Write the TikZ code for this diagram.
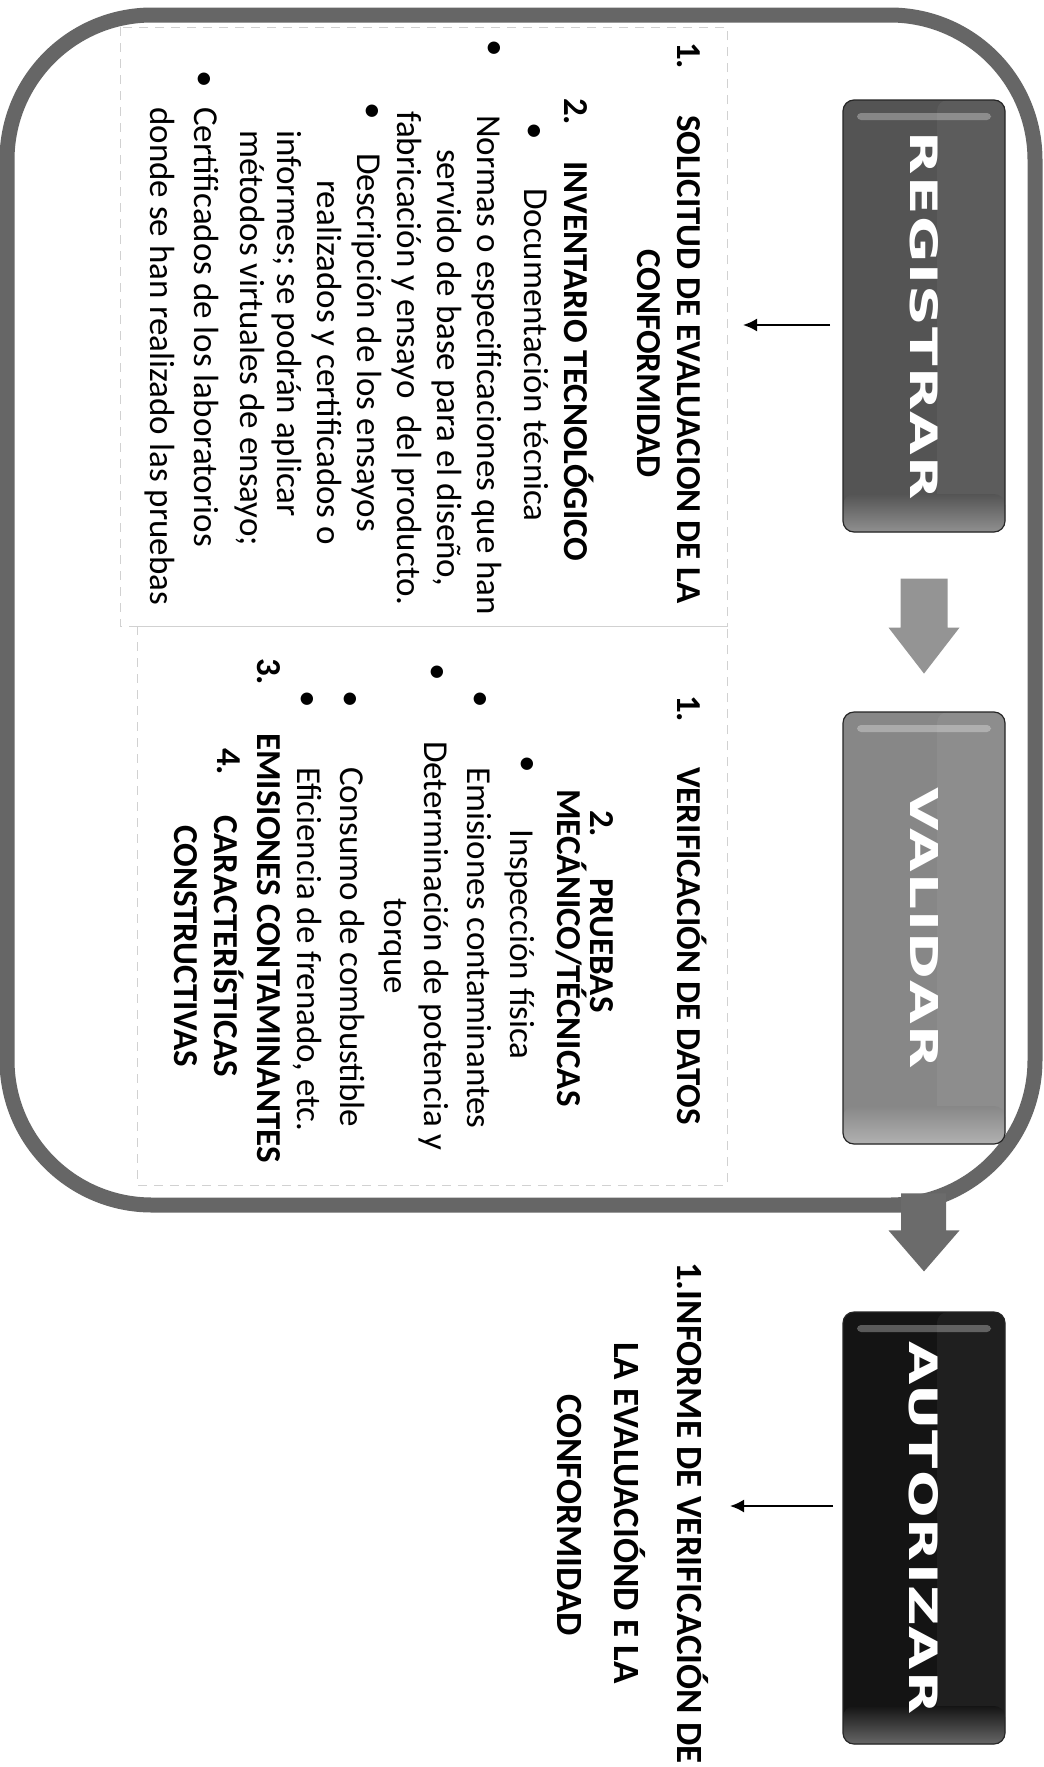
\documentclass[tikz,border=0pt]{standalone}
\usepackage{fontspec}
\setmainfont{Carlito}
\newfontfamily\btnfont{DejaVu Sans}[LetterSpace=2.0]
\usetikzlibrary{calc,arrows.meta}
\colorlet{regc}{black!67}
\colorlet{valc}{black!47}
\colorlet{autc}{black!92}
\begin{document}
\begin{tikzpicture}[x=1pt,y=-1pt,
  tx/.style={rotate=-90, anchor=mid west, inner sep=0pt, font=\fontsize{35}{41}\selectfont},
  hd/.style={tx, font=\fontsize{35}{41}\selectfont\bfseries},
  hdb/.style={tx, font=\fontsize{37}{44}\selectfont\bfseries},
  bl/.style={rotate=-90, anchor=mid, inner sep=0pt, font=\fontsize{35}{41}\selectfont},
  btn/.style={draw=black!85, line width=1.2pt, rounded corners=11pt,
    minimum width=162pt, minimum height=432pt, inner sep=0pt, fill=#1,
    path picture={
      \fill[white, opacity=0.05] ([xshift=13pt]path picture bounding box.north) rectangle (path picture bounding box.south east);
      \shade[top color=#1, bottom color=#1!65!white] ([yshift=38pt]path picture bounding box.south west) rectangle (path picture bounding box.south east);
      \fill[white, opacity=0.3, rounded corners=4pt] ([xshift=14pt,yshift=-13pt]path picture bounding box.north west) rectangle ([xshift=-14pt,yshift=-20pt]path picture bounding box.north east);
    }},
  btntxt/.style={rotate=-90, text=white, inner sep=0pt, font=\btnfont\bfseries},
  frame/.style={line width=15pt, draw=black!60},
  dashbox/.style={draw=black!18, line width=0.8pt, dash pattern=on 9pt off 7pt},
  thinarr/.style={line width=2pt, -{Latex[length=14pt,width=13pt]}},
  arrA/.style={fill=black!42},
  arrB/.style={fill=black!58}
]
\useasboundingbox[fill=white] (0,0) rectangle (1044,1767);

% text boxes (faint dashed)
\draw[dashbox] (120,27) rectangle (727,626);
\draw[dashbox] (137,626) rectangle (727,1185);

% outer frame
\draw[frame, rounded corners=145pt] (800,1205) -- (7,1205) -- (7,15) -- (1035,15) -- (1035,1205) -- cycle;

% buttons
\node[btn=regc] (reg) at (924,316) {};
\node[btn=valc] (val) at (924,928) {};
\node[btn=autc] (aut) at (924,1528) {};
\node[btntxt] (regT) at (reg.center) {\resizebox{368pt}{28pt}{REGISTRAR}};
\node[btntxt] (valT) at (val.center) {\resizebox{281pt}{28pt}{VALIDAR}};
\node[btntxt] (autT) at (aut.center) {\resizebox{373pt}{29pt}{AUTORIZAR}};

% big arrows
\fill[arrA] ($(reg.south)+(-23.5,46)$) -- ($(reg.south)+(23.5,46)$) -- ($(reg.south)+(23.5,95)$) -- ($(reg.south)+(35.5,95)$) -- ($(reg.south)+(0,141)$) -- ($(reg.south)+(-35.5,95)$) -- ($(reg.south)+(-23.5,95)$) -- cycle;
\fill[arrB] ($(aut.north)+(-23,-118)$) -- ($(aut.north)+(22,-118)$) -- ($(aut.north)+(22,-81)$) -- ($(aut.north)+(35.5,-81)$) -- ($(aut.north)+(0,-40)$) -- ($(aut.north)+(-35.5,-81)$) -- ($(aut.north)+(-23,-81)$) -- cycle;

% REGISTRAR text
\node[hd] (r1n) at (680,42) {1.};
\node[hd] (r1) at (680,115) {SOLICITUD DE EVALUACION DE LA};
\node[hd] (r1b) at (640,249) {CONFORMIDAD};
\node[hd] (r2n) at (567,98) {2.};
\node[hd] (r2) at (567,161) {INVENTARIO TECNOLÓGICO};
\node[bl] (rb1) at (527,131) {•};
\node[tx] (r3) at (527,188) {Documentación técnica};
\node[bl] (rb2) at (487,48) {•};
\node[tx] (r4) at (480,115) {Normas o especificaciones que han};
\node[tx] (r5) at (440,149) {servido de base para el diseño,};
\node[tx] (r6) at (400,111) {fabricación y ensayo\hspace{0.25em} del producto.};
\node[bl] (rb3) at (365,111) {•};
\node[tx] (r7) at (360,153) {Descripción de los ensayos};
\node[tx] (r8) at (320,180) {realizados y certificados o};
\node[tx] (r9) at (280,130) {informes; se podrán aplicar};
\node[tx] (r10) at (243,130) {métodos virtuales de ensayo;};
\node[bl] (rb4) at (197,79) {•};
\node[tx] (r11) at (197,107) {Certificados de los laboratorios};
\node[tx] (r12) at (153,107) {donde se han realizado las pruebas};

% VALIDAR text
\node[hd] (v1n) at (680,695) {1.};
\node[hd] (v1) at (680,767) {VERIFICACIÓN DE DATOS};
\node[hd] (v2n) at (593,810) {2.};
\node[hd] (v2) at (593,878) {PRUEBAS};
\node[hd] (v2b) at (560,789) {MECÁNICO/TÉCNICAS};
\node[bl] (vb1) at (520,764) {•};
\node[tx] (v3) at (513,829) {Inspección física};
\node[bl] (vb2) at (473,699) {•};
\node[tx] (v4) at (470,767) {Emisiones contaminantes};
\node[bl] (vb3) at (430,672) {•};
\node[tx] (v5) at (427,741) {Determinación de potencia y};
\node[tx] (v6) at (387,898) {torque};
\node[bl] (vb4) at (343,699) {•};
\node[tx] (v7) at (343,767) {Consumo de combustible};
\node[bl] (vb5) at (300,699) {•};
\node[tx] (v8) at (300,767) {Eficiencia de frenado, etc.};
\node[hd] (v9n) at (260,658) {3.};
\node[hd] (v9) at (260,733) {EMISIONES CONTAMINANTES};
\node[hd] (v10n) at (220,748) {4.};
\node[hd] (v10) at (217,815) {CARACTERÍSTICAS};
\node[hd] (v10b) at (177,825) {CONSTRUCTIVAS};

% AUTORIZAR text
\node[hdb] (a1) at (680,1262) {1.INFORME DE VERIFICACIÓN DE};
\node[hdb] (a2) at (617,1342) {LA EVALUACIÓND E LA};
\node[hdb] (a3) at (560,1394) {CONFORMIDAD};

% thin arrows
\coordinate (ra1) at (830,325);
\coordinate (ra2) at (743,325);
\draw[thinarr] (ra1) -- (ra2);
\coordinate (aa1) at (833,1506);
\coordinate (aa2) at (730,1506);
\draw[thinarr] (aa1) -- (aa2);
\end{tikzpicture}
\end{document}
